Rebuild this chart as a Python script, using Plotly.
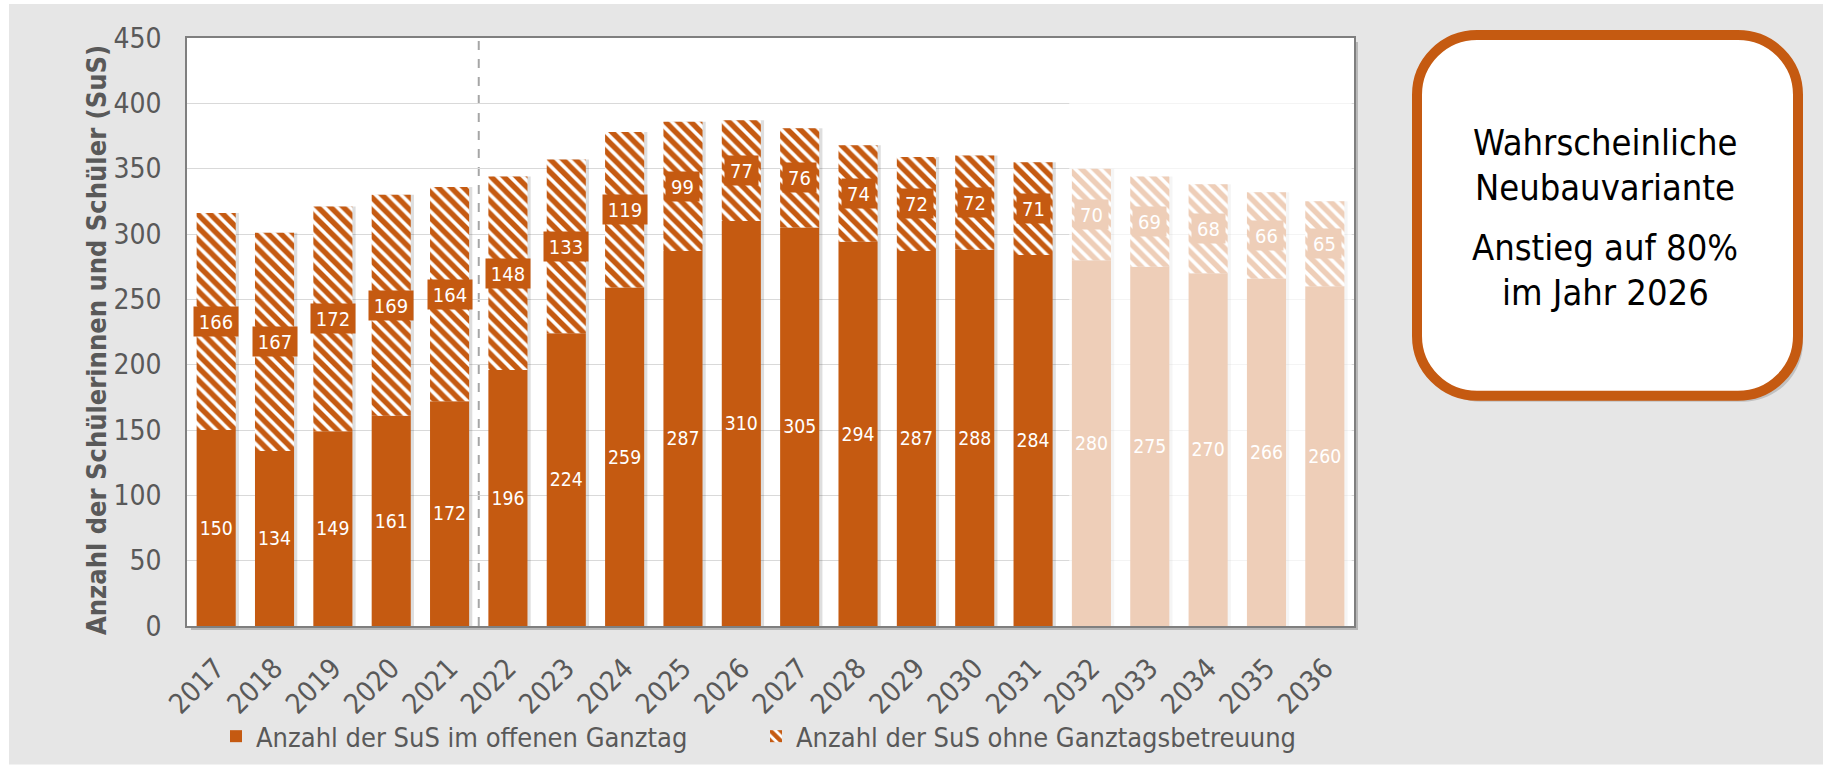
import plotly.graph_objects as go

# ---- data -------------------------------------------------------------
years = [str(y) for y in range(2017, 2037)]
offener_ganztag = [150, 134, 149, 161, 172, 196, 224, 259, 287, 310,
                   305, 294, 287, 288, 284, 280, 275, 270, 266, 260]
ohne_betreuung = [166, 167, 172, 169, 164, 148, 133, 119, 99, 77,
                  76, 74, 72, 72, 71, 70, 69, 68, 66, 65]
first_forecast_idx = 15          # 2032 onwards drawn faded
y_ticks = [0, 50, 100, 150, 200, 250, 300, 350, 400, 450]

name_solid = "Anzahl der SuS im offenen Ganztag"
name_hatch = "Anzahl der SuS ohne Ganztagsbetreuung"
y_title = "Anzahl der Schülerinnen und Schüler (SuS)"
box_lines = ["Wahrscheinliche", "Neubauvariante", "Anstieg auf 80%", "im Jahr 2026"]

# ---- style -------------------------------------------------------------
ORANGE = "#C55A11"
GREY_TXT = "#595959"
FONT = "DejaVu Sans Condensed, DejaVu Sans, sans-serif"
FADE = 0.70


def mix_white(hex_col, a):
    r, g, b = (int(hex_col[i:i + 2], 16) for i in (1, 3, 5))
    r, g, b = (round(c + (255 - c) * a) for c in (r, g, b))
    return f"#{r:02X}{g:02X}{b:02X}"


PALE = mix_white(ORANGE, FADE)

W, H = 1823, 773
ML, MR, MT, MB = 187, 469, 38, 145
PW, PH = W - ML - MR, H - MT - MB


def px(x):
    return (x - ML) / PW


def py(y):
    return (H - MB - y) / PH


def rounded_rect(x0, y0, x1, y1, r):
    k = 0.5523 * r
    pts = [
        f"M{px(x0 + r)},{py(y0)}",
        f"L{px(x1 - r)},{py(y0)}",
        f"C{px(x1 - r + k)},{py(y0)} {px(x1)},{py(y0 + r - k)} {px(x1)},{py(y0 + r)}",
        f"L{px(x1)},{py(y1 - r)}",
        f"C{px(x1)},{py(y1 - r + k)} {px(x1 - r + k)},{py(y1)} {px(x1 - r)},{py(y1)}",
        f"L{px(x0 + r)},{py(y1)}",
        f"C{px(x0 + r - k)},{py(y1)} {px(x0)},{py(y1 - r + k)} {px(x0)},{py(y1 - r)}",
        f"L{px(x0)},{py(y0 + r)}",
        f"C{px(x0)},{py(y0 + r - k)} {px(x0 + r - k)},{py(y0)} {px(x0 + r)},{py(y0)}",
        "Z",
    ]
    return " ".join(pts)


totals = [a + b for a, b in zip(offener_ganztag, ohne_betreuung)]
BAR_W = 0.67

fig = go.Figure()

# soft shadow on the right side of each column
fig.add_trace(go.Bar(
    x=years, y=totals, base=0, width=BAR_W, offset=-BAR_W / 2 + 0.055,
    marker=dict(color="rgba(0,0,0,0.13)", line_width=0),
    showlegend=False, hoverinfo="skip",
))

fig.add_trace(go.Bar(
    x=years, y=offener_ganztag, width=BAR_W, offset=-BAR_W / 2,
    name=name_solid,
    marker=dict(color=ORANGE, line_width=0),
    texttemplate="%{y}", textposition="inside", insidetextanchor="middle",
    textangle=0, textfont=dict(color="white", size=20, family=FONT),
))

fig.add_trace(go.Bar(
    x=years, y=ohne_betreuung, base=offener_ganztag, width=BAR_W, offset=-BAR_W / 2,
    name=name_hatch,
    marker=dict(color="white", line_width=0,
                pattern=dict(shape="\\", fgcolor=ORANGE, bgcolor="white",
                             size=9, solidity=0.6, fillmode="replace")),
))

# value boxes in the middle of the hatched segments
annotations = []
for i, (b, h) in enumerate(zip(offener_ganztag, ohne_betreuung)):
    col = PALE if i >= first_forecast_idx else ORANGE
    txt = str(h)
    annotations.append(dict(
        x=i, y=b + h / 2, xref="x", yref="y", text=txt, showarrow=False,
        font=dict(color="white", size=20, family=FONT),
        bgcolor=col, borderpad=4, width=11 * len(txt) + 3, height=21,
    ))

# y-axis title
annotations.append(dict(
    x=px(97), y=py(341), xref="paper", yref="paper", text=f"<b>{y_title}</b>",
    textangle=-90, showarrow=False, xanchor="center", yanchor="middle",
    font=dict(color=GREY_TXT, size=27, family=FONT),
))

# text in the rounded info box
for txt, yc in zip(box_lines, [143, 188, 248, 293]):
    annotations.append(dict(
        x=px(1605), y=py(yc), xref="paper", yref="paper", text=txt,
        showarrow=False, xanchor="center", yanchor="middle",
        font=dict(color="black", size=36, family=FONT),
    ))

shapes = [
    # grey panel
    dict(type="rect", xref="paper", yref="paper", layer="below",
         x0=px(9), x1=px(W + 5), y0=py(767), y1=py(4),
         fillcolor="#E6E6E6", line_width=0),
    # plot-area shadow
    dict(type="rect", xref="paper", yref="paper", layer="below",
         x0=px(ML + 4), x1=px(ML + PW + 4), y0=py(MT + PH + 4), y1=py(MT + 4),
         fillcolor="#B8B8B8", line_width=0),
    # white plot area
    dict(type="rect", xref="paper", yref="paper", layer="below",
         x0=0, x1=1, y0=0, y1=1, fillcolor="white", line_width=0),
    # separator between past and projection
    dict(type="line", xref="x", yref="y", layer="below",
         x0=4.5, x1=4.5, y0=0, y1=450,
         line=dict(color="#A6A6A6", width=2, dash="dash")),
    # faded projection years
    dict(type="rect", xref="x", yref="y", layer="above",
         x0=first_forecast_idx - 0.38, x1=19.46, y0=0, y1=448.5,
         fillcolor="white", opacity=FADE, line_width=0),
    # info box shadow
    dict(type="path", xref="paper", yref="paper", layer="below",
         path=rounded_rect(1421, 40, 1803, 403, 60),
         fillcolor="rgba(0,0,0,0.16)", line_width=0),
    # info box
    dict(type="path", xref="paper", yref="paper", layer="above",
         path=rounded_rect(1417, 35, 1798, 397, 60),
         fillcolor="white", line=dict(color=ORANGE, width=10)),
]

fig.update_layout(
    width=W, height=H,
    margin=dict(l=ML, r=MR, t=MT, b=MB, pad=0),
    barmode="overlay",
    paper_bgcolor="white", plot_bgcolor="white",
    font=dict(family=FONT, color=GREY_TXT),
    showlegend=True,
    legend=dict(orientation="h", x=px(216), xanchor="left",
                y=py(739), yanchor="middle",
                font=dict(size=27, color=GREY_TXT, family=FONT),
                bgcolor="rgba(0,0,0,0)", traceorder="normal",
                entrywidth=495, entrywidthmode="pixels"),
    annotations=annotations,
    shapes=shapes,
)

fig.update_xaxes(
    type="category", categoryorder="array", categoryarray=years,
    tickangle=-45, tickfont=dict(size=28, color=GREY_TXT, family=FONT),
    showline=True, linecolor="#7F7F7F", linewidth=1.5, mirror=True,
    showgrid=False, ticks="", ticklabelstandoff=13,
    range=[-0.5, 19.5],
)

fig.update_yaxes(
    range=[0, 450], tickvals=y_ticks,
    tickfont=dict(size=28, color=GREY_TXT, family=FONT),
    showline=True, linecolor="#7F7F7F", linewidth=1.5, mirror=True,
    showgrid=True, gridcolor="#D9D9D9", gridwidth=1.3, zeroline=False,
    ticks="", ticklabelstandoff=18,
)

fig.write_html("out.html")
